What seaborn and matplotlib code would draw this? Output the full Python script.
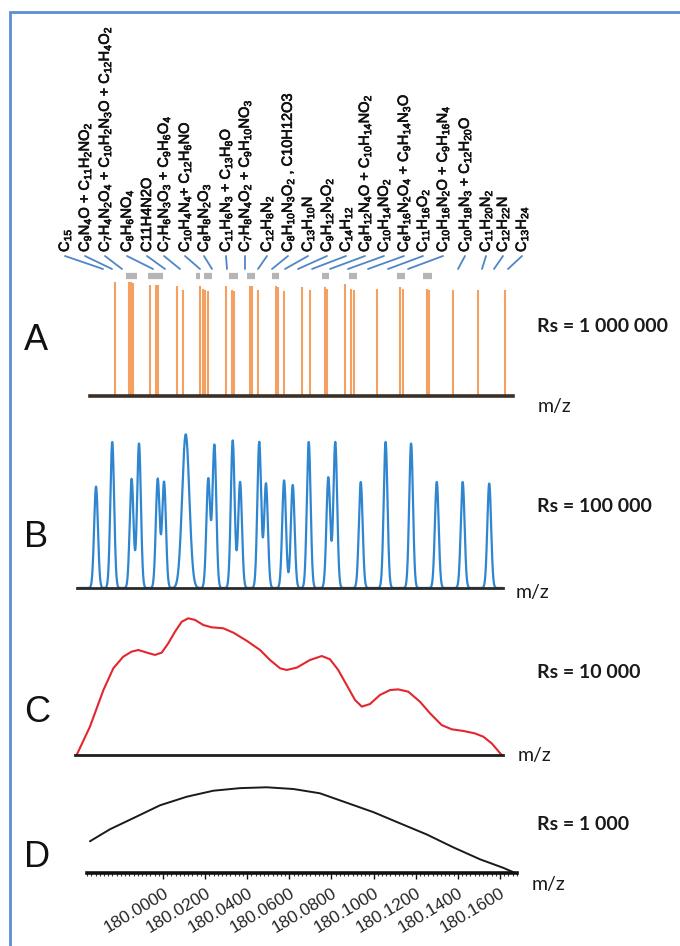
import numpy as np
import pandas as pd
import matplotlib
matplotlib.use("Agg")
import matplotlib.pyplot as plt
import matplotlib.patheffects as pe
from matplotlib.ticker import FixedLocator, MultipleLocator
import seaborn as sns

# DATA ===========================================================================================================

# A : Rs = 1 000 000 -> centroid sticks (m/z, relative intensity %)
a_mz = [179.9772, 179.9839, 179.9848, 179.9856, 179.9938, 179.9967, 179.9978, 180.0065, 180.0094,
        180.0176, 180.0189, 180.0199, 180.0215, 180.0299, 180.0326, 180.0339, 180.0413, 180.0424,
        180.0453, 180.0537, 180.0547, 180.0575, 180.0659, 180.0698, 180.0769, 180.0780, 180.0864,
        180.0891, 180.0907, 180.1015, 180.1125, 180.1141, 180.1252, 180.1263, 180.1376, 180.1497,
        180.1624]
a_int = [100, 100, 100, 99, 97, 97, 97, 96, 93,
         96, 94, 93, 92, 96, 93, 92, 96, 96,
         93, 96, 95, 92, 95, 93, 95, 94, 98,
         94, 93, 94, 95, 94, 94, 93, 93, 93,
         93]
# grey marks over groups of close peaks
a_group_start = [179.9823, 179.9930, 180.0157, 180.0195, 180.0315, 180.0397, 180.0516, 180.0754,
                 180.0885, 180.1113, 180.1236]
a_group_end = [179.9875, 179.9999, 180.0176, 180.0234, 180.0358, 180.0437, 180.0552, 180.0790,
               180.0923, 180.1149, 180.1276]

formula_labels = [
    r"C$_{15}$",
    r"C$_9$N$_4$O + C$_{11}$H$_2$NO$_2$",
    r"C$_7$H$_4$N$_2$O$_4$ + C$_{10}$H$_2$N$_3$O + C$_{12}$H$_4$O$_2$",
    r"C$_8$H$_6$NO$_4$",
    "C11H4N2O",
    r"C$_7$H$_6$N$_3$O$_3$ + C$_9$H$_6$O$_4$",
    r"C$_{10}$H$_4$N$_4$+ C$_{12}$H$_6$NO",
    r"C$_8$H$_8$N$_2$O$_3$",
    r"C$_{11}$H$_6$N$_3$ + C$_{13}$H$_8$O",
    r"C$_7$H$_8$N$_4$O$_2$ + C$_9$H$_{10}$NO$_3$",
    r"C$_{12}$H$_8$N$_2$",
    r"C$_8$H$_{10}$N$_3$O$_2$ , C10H12O3",
    r"C$_{13}$H$_{10}$N",
    r"C$_9$H$_{12}$N$_2$O$_2$",
    r"C$_{14}$H$_{12}$",
    r"C$_8$H$_{12}$N$_4$O + C$_{10}$H$_{14}$NO$_2$",
    r"C$_{10}$H$_{14}$NO$_2$",
    r"C$_6$H$_{16}$N$_2$O$_4$ + C$_9$H$_{14}$N$_3$O",
    r"C$_{11}$H$_{16}$O$_2$",
    r"C$_{10}$H$_{16}$N$_2$O + C$_9$H$_{16}$N$_4$",
    r"C$_{10}$H$_{18}$N$_3$ + C$_{12}$H$_{20}$O",
    r"C$_{11}$H$_{20}$N$_2$",
    r"C$_{12}$H$_{22}$N",
    r"C$_{13}$H$_{24}$",
]

# B : Rs = 100 000 -> peak list (m/z, relative intensity %, peak sigma)
b_mz = [179.9682, 179.9759, 179.9851, 179.9886, 179.9975, 180.0005, 180.0108, 180.0215,
        180.0244, 180.0331, 180.0366, 180.0457, 180.0489, 180.0575, 180.0616, 180.0692,
        180.0785, 180.0818, 180.0939, 180.1057, 180.1178, 180.1300, 180.1423, 180.1549]
b_int = [66, 95, 71, 94, 71, 69, 100, 71,
         93, 96, 69, 95, 68, 70, 67, 95,
         72, 95, 69, 95, 94, 69, 69, 68]
b_sigma = [0.0009, 0.0009, 0.0009, 0.0009, 0.0009, 0.0009, 0.0017, 0.0009,
           0.0009, 0.0009, 0.0009, 0.0009, 0.0009, 0.0009, 0.0009, 0.0009,
           0.0009, 0.0009, 0.0009, 0.0009, 0.0009, 0.0009, 0.0009, 0.0009]

# C : Rs = 10 000 -> envelope
c_mz = [179.9590, 179.9653, 179.9717, 179.9764, 179.9811, 179.9851, 179.9883, 179.9923, 179.9962,
        179.9994, 180.0025, 180.0057, 180.0089, 180.0120, 180.0152, 180.0191, 180.0231, 180.0286,
        180.0334, 180.0397, 180.0461, 180.0508, 180.0556, 180.0587, 180.0635, 180.0698, 180.0754,
        180.0793, 180.0832, 180.0872, 180.0912, 180.0944, 180.0983, 180.1030, 180.1078, 180.1117,
        180.1165, 180.1220, 180.1268, 180.1323, 180.1371, 180.1426, 180.1481, 180.1521, 180.1561,
        180.1608]
c_int = [0, 20.7, 47.5, 63.4, 71.9, 75.6, 76.8, 74.9, 73.2,
         74.9, 81.7, 90.2, 97.5, 100, 98.8, 95.1, 93.4, 92.7,
         89.5, 83.6, 76.8, 69.5, 63.4, 62.2, 63.9, 69.5, 72.4,
         70.0, 62.2, 51.2, 40.2, 35.4, 37.3, 43.9, 47.5, 48.0,
         46.3, 39.0, 30.5, 21.9, 18.8, 17.6, 15.8, 13.4, 8.5,
         0]

# D : Rs = 1 000 -> single broad envelope
d_mz = [179.9653, 179.9748, 179.9859, 179.9986, 180.0113, 180.0239, 180.0366, 180.0492, 180.0619,
        180.0745, 180.0872, 180.0999, 180.1125, 180.1252, 180.1378, 180.1505, 180.1616, 180.1663]
d_int = [37, 51, 64, 79, 89, 96, 99, 100, 98,
         93, 82, 71, 58, 45, 30, 16, 6, 1]
d_ticks = [180.00, 180.02, 180.04, 180.06, 180.08, 180.10, 180.12, 180.14, 180.16]
d_ticklabels = ["180.0000", "180.0200", "180.0400", "180.0600", "180.0800",
                "180.1000", "180.1200", "180.1400", "180.1600"]

panel_letters = ["A", "B", "C", "D"]
rs_labels = ["Rs = 1 000 000", "Rs = 100 000", "Rs = 10 000", "Rs = 1 000"]

# LAYOUT =========================================================================================================

W, H = 680, 946
PX_PER_MZ = 2106.0
MZ0_PX = 163.0


def px2mz(x):
    return 180.0 + (x - MZ0_PX) / PX_PER_MZ


def add_panel(fig, x0, x1, ytop, ybot):
    return fig.add_axes([x0 / W, 1 - ybot / H, (x1 - x0) / W, (ybot - ytop) / H])


def strip(ax, base_lw, base_color):
    for s in ["top", "left", "right"]:
        ax.spines[s].set_visible(False)
    ax.spines["bottom"].set_linewidth(base_lw)
    ax.spines["bottom"].set_color(base_color)
    ax.set_yticks([])
    ax.set_xlabel("")
    ax.set_ylabel("")
    ax.patch.set_alpha(0)


sns.set_style("white")
plt.rcParams["font.family"] = ["Liberation Sans", "DejaVu Sans"]
plt.rcParams["mathtext.fontset"] = "custom"
plt.rcParams["mathtext.rm"] = "Liberation Sans"
plt.rcParams["mathtext.it"] = "Liberation Sans"
plt.rcParams["mathtext.bf"] = "Liberation Sans:bold"

fig = plt.figure(figsize=(6.8, 9.46), dpi=100)

# PANEL A ------------------------------------------------------------------
ax_a = add_panel(fig, 90, 513, 270, 396)
ax_a.vlines(a_mz, 0, a_int, color="#f4a062", linewidth=1.5)
ax_a.hlines([105.3] * len(a_group_start), a_group_start, a_group_end, color="#b5b5b5",
            linewidth=4.5, clip_on=False)
ax_a.set_xlim(px2mz(90), px2mz(513))
ax_a.set_ylim(0, 110.2)
strip(ax_a, 2.6, "#3b2f27")
ax_a.set_xticks([])

# PANEL B ------------------------------------------------------------------
ax_b = add_panel(fig, 77, 503, 430, 588)
b_grid = np.linspace(px2mz(77), px2mz(503), 4000)
b_prof = np.zeros_like(b_grid)
for m, h, s in zip(b_mz, b_int, b_sigma):
    b_prof += h * np.exp(-0.5 * ((b_grid - m) / s) ** 2)
df_b = pd.DataFrame({"mz": b_grid, "intensity": b_prof})
sns.lineplot(data=df_b, x="mz", y="intensity", ax=ax_b, color="#2f86d0", linewidth=1.6,
             estimator=None)
ax_b.set_xlim(px2mz(77), px2mz(503))
ax_b.set_ylim(0, 102.8)
strip(ax_b, 2.0, "#2a2a2a")
ax_b.set_xticks([])

# PANEL C ------------------------------------------------------------------
ax_c = add_panel(fig, 75, 503, 612, 755)
df_c = pd.DataFrame({"mz": c_mz, "intensity": c_int})
sns.lineplot(data=df_c, x="mz", y="intensity", ax=ax_c, color="#e3262e", linewidth=1.5,
             estimator=None)
ax_c.set_xlim(px2mz(75), px2mz(503))
ax_c.set_ylim(0, 104.6)
strip(ax_c, 2.0, "#1e1e1e")
ax_c.set_xticks([])

# PANEL D ------------------------------------------------------------------
ax_d = add_panel(fig, 87, 517, 783, 873)
df_d = pd.DataFrame({"mz": d_mz, "intensity": d_int})
sns.lineplot(data=df_d, x="mz", y="intensity", ax=ax_d, color="#1a1a1a", linewidth=1.4,
             estimator=None)
ax_d.set_xlim(px2mz(87), px2mz(517))
ax_d.set_ylim(0, 105)
strip(ax_d, 2.6, "#111111")
ax_d.xaxis.set_major_locator(FixedLocator(d_ticks))
ax_d.xaxis.set_minor_locator(MultipleLocator(0.002))
ax_d.set_xticklabels(d_ticklabels, rotation=31, ha="right", va="top", rotation_mode="anchor",
                     fontsize=12.5)
ax_d.tick_params(axis="x", which="major", bottom=True, length=4, width=1.0, color="#111111",
                 pad=5)
ax_d.tick_params(axis="x", which="minor", bottom=True, length=2.2, width=0.8, color="#333333")

# ANNOTATION LAYER ---------------------------------------------------------
ov = fig.add_axes([0, 0, 1, 1])
ov.set_xlim(0, W)
ov.set_ylim(H, 0)
ov.axis("off")
ov.patch.set_alpha(0)

# frame
ov.plot([10, 10, W + 5], [H + 5, 12, 12], color="#5b8fd4", linewidth=2.0, solid_joinstyle="miter")

label_x = [65, 85, 105, 127, 147, 164, 185, 204, 226, 245, 267, 288,
           308, 327, 346, 365, 384, 404, 423, 443, 465, 486, 503, 522]
leader_end = [103, 112, 122, 153, 165, 180, 200, 212, 227, 245, 258, 272,
              285, 298, 312, 330, 348, 368, 388, 408, 458, 482, 494, 508]
bold_fx = [pe.withStroke(linewidth=0.5, foreground="#111111")]
for lx, tx, lab in zip(label_x, leader_end, formula_labels):
    ov.text(lx, 252, lab, rotation=90, ha="center", va="bottom", fontsize=10.5, color="#111111",
            path_effects=bold_fx)
    ov.plot([lx, tx], [256, 269], color="#4f86c6", linewidth=1.3)

letter_y = [340, 537, 712, 857]
rs_y = [326, 506, 672, 824]
mz_xy = [(538, 406), (516, 592), (518, 755), (532, 884)]
for let, ly in zip(panel_letters, letter_y):
    ov.text(24, ly, let, fontsize=26, ha="left", va="center", color="#111111")
for rs, ry in zip(rs_labels, rs_y):
    ov.text(537, ry, rs, fontsize=14, fontweight="bold", family="Lato", ha="left",
            va="center", color="#1a1a1a")
for mx, my in mz_xy:
    ov.text(mx, my, "m/z", fontsize=14, family="Lato", ha="left", va="center", color="#1a1a1a")

plt.savefig("out.png", dpi=100)
